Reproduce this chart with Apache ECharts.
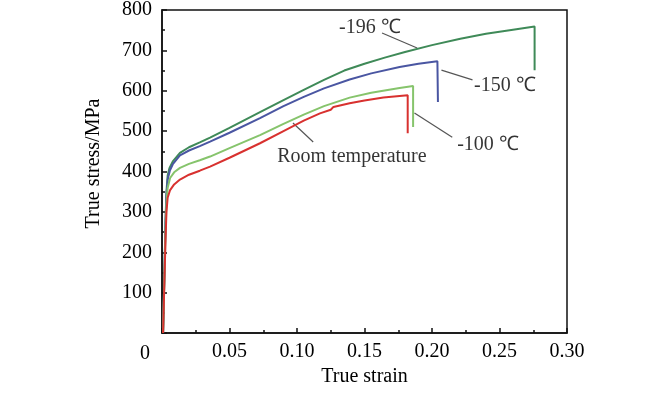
<!DOCTYPE html>
<html>
<head>
<meta charset="utf-8">
<script src="https://cdn.jsdelivr.net/npm/echarts@6/dist/echarts.min.js"></script>
<style>
html,body{margin:0;padding:0;background:#fff;}
#chart{width:650px;height:394px;}
</style>
</head>
<body>
<div id="chart"></div>
<script>
// ---- data (true strain, true stress MPa) ----
const seriesNames = ['-196 ℃', '-150 ℃', '-100 ℃', 'Room temperature'];
const curve196 = [[0.0008,0],[0.0018,150],[0.0026,280],[0.0033,350],[0.0042,390],[0.0055,408],[0.008,425],[0.0133,446],[0.02,460],[0.028,472],[0.0356,484],[0.05,508],[0.0726,547],[0.09,577],[0.105,602],[0.12,627],[0.135,650],[0.15,667],[0.165,682],[0.18,696],[0.2,713],[0.221,729],[0.24,741],[0.26,751],[0.276,759],[0.276,651]];
const curve150 = [[0.0008,0],[0.0018,150],[0.0026,270],[0.0033,340],[0.0042,380],[0.0058,402],[0.008,418],[0.0133,440],[0.02,452],[0.028,463],[0.0356,474],[0.05,496],[0.0726,532],[0.09,562],[0.105,585],[0.12,606],[0.139,628],[0.155,643],[0.176,659],[0.19,667],[0.204,673],[0.2044,572]];
const curve100 = [[0.0008,0],[0.0018,140],[0.0026,250],[0.0033,320],[0.0042,360],[0.006,384],[0.009,398],[0.0133,409],[0.02,419],[0.028,428],[0.0356,437],[0.05,458],[0.0726,490],[0.09,518],[0.105,541],[0.12,562],[0.139,583],[0.155,595],[0.176,607],[0.186,612],[0.186,510]];
const curveRoom = [[0.0008,0],[0.0018,130],[0.0026,230],[0.0033,300],[0.0042,335],[0.006,354],[0.009,368],[0.0133,380],[0.02,392],[0.028,402],[0.0356,412],[0.05,434],[0.0726,470],[0.09,500],[0.105,526],[0.117,544],[0.125,553],[0.127,560],[0.139,569],[0.15,576],[0.164,583],[0.182,589],[0.182,495]];
const xTicks = [0, 0.05, 0.10, 0.15, 0.20, 0.25, 0.30];
const yTicks = [0, 100, 200, 300, 400, 500, 600, 700, 800];
// annotation labels and leader lines (data coordinates)
const annoText = ['-196 ℃', '-150 ℃', '-100 ℃', 'Room temperature'];
const annoPos = [[0.154,755],[0.254,612],[0.2415,466],[0.1407,436]];
const leaderFrom = [[0.163,743],[0.207,651],[0.187,545],[0.097,520]];
const leaderTo = [[0.189,706],[0.230,627],[0.215,485],[0.112,473]];

const colors = ['#3f8a58', '#4a56a2', '#86c46c', '#d8312f'];
const curves = [curve196, curve150, curve100, curveRoom];
const FONT = '"Liberation Serif", "Times New Roman", serif';

const chart = echarts.init(document.getElementById('chart'), null, {renderer:'canvas'});
const series = curves.map((d, i) => ({
  name: seriesNames[i], type: 'line', data: d, showSymbol: false, symbol: 'none',
  lineStyle: {color: colors[i], width: 2}, z: 3 + i, animation: false
}));
series.push({
  type: 'lines', coordinateSystem: 'cartesian2d', silent: true, animation: false,
  lineStyle: {color: '#555', width: 1.2, opacity: 1},
  data: leaderFrom.map((p, i) => ({coords: [p, leaderTo[i]]})), z: 2
});
series.push({
  type: 'scatter', symbolSize: 0, silent: true, animation: false,
  data: annoPos.map((p, i) => ({value: p, name: annoText[i]})),
  label: {show: true, position: 'inside', formatter: p => p.name, color: '#000',
          fontFamily: FONT, fontSize: 20}, z: 10
});

chart.setOption({
  animation: false,
  backgroundColor: '#fff',
  grid: {left: 162, right: 83, top: 10, bottom: 61, show: true, borderColor: '#111', borderWidth: 1.5, backgroundColor: 'transparent'},
  graphic: [{type: 'text', left: 140, top: 344, style: {text: '0', fill: '#000', font: '20px ' + FONT}}],
  xAxis: {
    type: 'value', min: 0, max: 0.3, interval: 0.05,
    name: 'True strain', nameLocation: 'middle', nameGap: 32,
    nameTextStyle: {fontFamily: FONT, fontSize: 20, color: '#000'},
    axisLine: {lineStyle: {color: '#111', width: 1.5}},
    axisTick: {inside: true, length: 5, lineStyle: {color: '#111', width: 1.5}},
    minorTick: {show: true, splitNumber: 2, length: 3, lineStyle: {color: '#111', width: 1.5}},
    splitLine: {show: false},
    axisLabel: {margin: 9, fontFamily: FONT, fontSize: 20, color: '#000',
      formatter: v => { const t = xTicks.find(x => Math.abs(x - v) < 1e-9); return (t === undefined || t === 0) ? '' : t.toFixed(2); }}
  },
  yAxis: {
    type: 'value', min: 0, max: 800, interval: 100,
    name: 'True stress/MPa', nameLocation: 'middle', nameGap: 58,
    nameTextStyle: {fontFamily: FONT, fontSize: 20, color: '#000', padding: [0, 0, 0, 16]},
    axisLine: {lineStyle: {color: '#111', width: 1.5}},
    axisTick: {inside: true, length: 5, lineStyle: {color: '#111', width: 1.5}},
    minorTick: {show: true, splitNumber: 2, length: 3, lineStyle: {color: '#111', width: 1.5}},
    splitLine: {show: false},
    axisLabel: {margin: 10, fontFamily: FONT, fontSize: 20, color: '#000',
      formatter: v => { const t = yTicks.find(y => y === v); return (t === undefined || t === 0) ? '' : String(t); }}
  },
  series: series
});
</script>
</body>
</html>
